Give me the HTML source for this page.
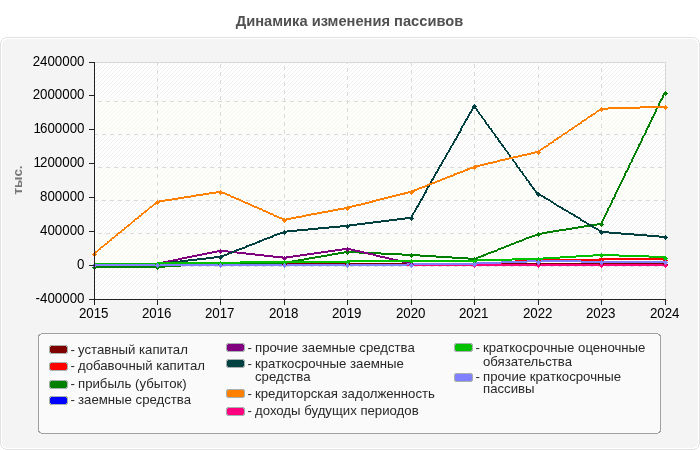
<!DOCTYPE html>
<html><head><meta charset="utf-8"><title>Динамика изменения пассивов</title>
<style>
html,body{margin:0;padding:0;background:#fff;}
body{width:700px;height:450px;overflow:hidden;position:relative;}
svg{position:absolute;left:0;top:0;display:block;}
text{font-family:"Liberation Sans",Arial,sans-serif;}
</style></head><body>
<svg width="700" height="450" viewBox="0 0 700 450">
<defs>
<pattern id="hw" x="0" y="0" width="4" height="4" patternUnits="userSpaceOnUse">
<rect x="0" y="0" width="4" height="4" fill="#ffffff"/>
<path d="M1 0h1v1h-1zM0 1h1v1h-1zM3 2h1v1h-1zM2 3h1v1h-1z" fill="#f0f0f0"/>
</pattern>
<pattern id="hy" x="0" y="0" width="4" height="4" patternUnits="userSpaceOnUse">
<rect x="0" y="0" width="4" height="4" fill="#fefefa"/>
<path d="M1 0h1v1h-1zM0 1h1v1h-1zM3 2h1v1h-1zM2 3h1v1h-1z" fill="#f6f6f3"/>
</pattern>
</defs>

<text x="349.5" y="25.5" text-anchor="middle" font-weight="bold" font-size="14.67" fill="#505050">Динамика изменения пассивов</text>
<g shape-rendering="crispEdges">
<rect x="0" y="37" width="700" height="413" fill="#ffffff"/>
<path fill="#e2e2e2" d="M5 37h690v1h-690zM5 449h690v1h-690zM0 42h1v403h-1zM699 42h1v403h-1zM3 38h1v1h-1zM696 38h1v1h-1zM3 448h1v1h-1zM696 448h1v1h-1zM4 38h1v1h-1zM695 38h1v1h-1zM4 448h1v1h-1zM695 448h1v1h-1zM2 39h1v1h-1zM697 39h1v1h-1zM2 447h1v1h-1zM697 447h1v1h-1zM1 40h1v1h-1zM698 40h1v1h-1zM1 446h1v1h-1zM698 446h1v1h-1zM1 41h1v1h-1zM698 41h1v1h-1zM1 445h1v1h-1zM698 445h1v1h-1z"/>
<path fill="#f4f4f4" d="M6 39h688v1h-688zM4 40h692v1h-692zM3 41h694v2h-694zM2 43h696v401h-696zM3 444h694v2h-694zM4 446h692v1h-692zM6 447h688v1h-688z"/>
</g>
<g shape-rendering="crispEdges">
<rect x="95" y="63" width="570" height="236" fill="url(#hw)"/>
<rect x="95" y="102" width="570" height="32" fill="url(#hy)"/>
<rect x="95" y="168" width="570" height="32" fill="url(#hy)"/>
<rect x="95" y="234" width="570" height="32" fill="url(#hy)"/>
<rect x="94" y="62" width="572" height="1" fill="#d7d7d7"/>
<rect x="665" y="62" width="1" height="238" fill="#d7d7d7"/>
<line x1="94" y1="101.5" x2="666" y2="101.5" stroke="#dadada" stroke-width="1" stroke-dasharray="4 4" stroke-dashoffset="4"/>
<line x1="94" y1="134.5" x2="666" y2="134.5" stroke="#dadada" stroke-width="1" stroke-dasharray="4 4" stroke-dashoffset="0"/>
<line x1="94" y1="167.5" x2="666" y2="167.5" stroke="#dadada" stroke-width="1" stroke-dasharray="4 4" stroke-dashoffset="4"/>
<line x1="94" y1="200.5" x2="666" y2="200.5" stroke="#dadada" stroke-width="1" stroke-dasharray="4 4" stroke-dashoffset="0"/>
<line x1="94" y1="233.5" x2="666" y2="233.5" stroke="#dadada" stroke-width="1" stroke-dasharray="4 4" stroke-dashoffset="4"/>
<line x1="94" y1="266.5" x2="666" y2="266.5" stroke="#dadada" stroke-width="1" stroke-dasharray="4 4" stroke-dashoffset="0"/>
<line x1="157.5" y1="62" x2="157.5" y2="300" stroke="#dadada" stroke-width="1" stroke-dasharray="4 4" stroke-dashoffset="0"/>
<line x1="220.5" y1="62" x2="220.5" y2="300" stroke="#dadada" stroke-width="1" stroke-dasharray="4 4" stroke-dashoffset="6"/>
<line x1="284.5" y1="62" x2="284.5" y2="300" stroke="#dadada" stroke-width="1" stroke-dasharray="4 4" stroke-dashoffset="4"/>
<line x1="347.5" y1="62" x2="347.5" y2="300" stroke="#dadada" stroke-width="1" stroke-dasharray="4 4" stroke-dashoffset="2"/>
<line x1="411.5" y1="62" x2="411.5" y2="300" stroke="#dadada" stroke-width="1" stroke-dasharray="4 4" stroke-dashoffset="0"/>
<line x1="474.5" y1="62" x2="474.5" y2="300" stroke="#dadada" stroke-width="1" stroke-dasharray="4 4" stroke-dashoffset="6"/>
<line x1="538.5" y1="62" x2="538.5" y2="300" stroke="#dadada" stroke-width="1" stroke-dasharray="4 4" stroke-dashoffset="4"/>
<line x1="601.5" y1="62" x2="601.5" y2="300" stroke="#dadada" stroke-width="1" stroke-dasharray="4 4" stroke-dashoffset="2"/>
</g>
<g shape-rendering="crispEdges">
<path fill="#800000" d="M94 263h571v1h-571zM94 264h571v1h-571z"/>
<path fill="#ff0000" d="M599 258h66v1h-66zM528 259h137v1h-137zM515 260h84v1h-84zM502 261h26v1h-26zM489 262h26v1h-26zM476 263h26v1h-26zM94 264h395v1h-395zM94 265h382v1h-382z"/>
<path fill="#008000" d="M663 93h2v1h-2zM663 94h2v1h-2zM662 95h2v1h-2zM662 96h2v1h-2zM662 97h2v1h-2zM661 98h2v1h-2zM660 99h3v1h-3zM660 100h2v1h-2zM659 101h2v1h-2zM659 102h2v1h-2zM658 103h2v1h-2zM658 104h2v1h-2zM658 105h2v1h-2zM657 106h2v1h-2zM657 107h2v1h-2zM656 108h2v1h-2zM655 109h2v1h-2zM655 110h2v1h-2zM655 111h2v1h-2zM654 112h2v1h-2zM654 113h2v1h-2zM653 114h2v1h-2zM653 115h2v1h-2zM652 116h2v1h-2zM651 117h3v1h-3zM651 118h2v1h-2zM651 119h2v1h-2zM650 120h2v1h-2zM650 121h2v1h-2zM649 122h2v1h-2zM649 123h2v1h-2zM648 124h2v1h-2zM648 125h2v1h-2zM647 126h3v1h-3zM647 127h2v1h-2zM646 128h2v1h-2zM646 129h2v1h-2zM645 130h2v1h-2zM645 131h2v1h-2zM645 132h2v1h-2zM644 133h2v1h-2zM644 134h2v1h-2zM643 135h2v1h-2zM642 136h2v1h-2zM642 137h2v1h-2zM641 138h2v1h-2zM641 139h2v1h-2zM641 140h2v1h-2zM640 141h2v1h-2zM640 142h2v1h-2zM639 143h2v1h-2zM638 144h3v1h-3zM638 145h2v1h-2zM638 146h2v1h-2zM637 147h2v1h-2zM637 148h2v1h-2zM636 149h2v1h-2zM636 150h2v1h-2zM635 151h2v1h-2zM635 152h2v1h-2zM634 153h2v1h-2zM634 154h2v1h-2zM633 155h2v1h-2zM633 156h2v1h-2zM632 157h2v1h-2zM632 158h2v1h-2zM631 159h2v1h-2zM631 160h2v1h-2zM631 161h2v1h-2zM630 162h2v1h-2zM629 163h2v1h-2zM629 164h2v1h-2zM628 165h2v1h-2zM628 166h2v1h-2zM628 167h2v1h-2zM627 168h2v1h-2zM627 169h2v1h-2zM626 170h2v1h-2zM625 171h3v1h-3zM625 172h2v1h-2zM624 173h2v1h-2zM624 174h2v1h-2zM624 175h2v1h-2zM623 176h2v1h-2zM623 177h2v1h-2zM622 178h2v1h-2zM622 179h2v1h-2zM621 180h2v1h-2zM621 181h2v1h-2zM620 182h2v1h-2zM620 183h2v1h-2zM619 184h2v1h-2zM619 185h2v1h-2zM618 186h2v1h-2zM618 187h2v1h-2zM617 188h2v1h-2zM617 189h2v1h-2zM616 190h2v1h-2zM616 191h2v1h-2zM615 192h2v1h-2zM615 193h2v1h-2zM614 194h2v1h-2zM614 195h2v1h-2zM614 196h2v1h-2zM613 197h2v1h-2zM612 198h3v1h-3zM612 199h2v1h-2zM611 200h2v1h-2zM611 201h2v1h-2zM611 202h2v1h-2zM610 203h2v1h-2zM610 204h2v1h-2zM609 205h2v1h-2zM609 206h2v1h-2zM608 207h2v1h-2zM607 208h2v1h-2zM607 209h2v1h-2zM607 210h2v1h-2zM606 211h2v1h-2zM606 212h2v1h-2zM605 213h2v1h-2zM605 214h2v1h-2zM604 215h2v1h-2zM604 216h2v1h-2zM603 217h2v1h-2zM603 218h2v1h-2zM602 219h2v1h-2zM602 220h2v1h-2zM601 221h2v1h-2zM601 222h2v1h-2zM597 223h5v1h-5zM591 224h11v1h-11zM584 225h13v1h-13zM578 226h13v1h-13zM572 227h12v1h-12zM566 228h12v1h-12zM559 229h13v1h-13zM553 230h13v1h-13zM547 231h12v1h-12zM542 232h11v1h-11zM537 233h10v1h-10zM535 234h7v1h-7zM532 235h5v1h-5zM529 236h6v1h-6zM526 237h6v1h-6zM524 238h5v1h-5zM522 239h4v1h-4zM519 240h5v1h-5zM516 241h6v1h-6zM514 242h5v1h-5zM511 243h5v1h-5zM509 244h5v1h-5zM506 245h5v1h-5zM504 246h5v1h-5zM501 247h5v1h-5zM498 248h6v1h-6zM497 249h4v1h-4zM494 250h4v1h-4zM344 251h15v1h-15zM491 251h6v1h-6zM338 252h43v1h-43zM488 252h6v1h-6zM332 253h12v1h-12zM359 253h43v1h-43zM486 253h5v1h-5zM327 254h11v1h-11zM381 254h39v1h-39zM483 254h5v1h-5zM321 255h11v1h-11zM402 255h34v1h-34zM481 255h5v1h-5zM315 256h12v1h-12zM420 256h32v1h-32zM478 256h6v1h-6zM309 257h12v1h-12zM436 257h32v1h-32zM476 257h5v1h-5zM304 258h11v1h-11zM452 258h26v1h-26zM298 259h11v1h-11zM468 259h8v1h-8zM292 260h12v1h-12zM286 261h12v1h-12zM213 262h79v1h-79zM197 263h89v1h-89zM181 264h32v1h-32zM165 265h32v1h-32zM94 266h87v1h-87zM94 267h71v1h-71z"/>
<path fill="#0000ff" d="M94 264h571v1h-571zM94 265h571v1h-571z"/>
<path fill="#800080" d="M342 248h9v1h-9zM335 249h20v1h-20zM217 250h11v1h-11zM328 250h14v1h-14zM351 250h9v1h-9zM212 251h25v1h-25zM321 251h14v1h-14zM355 251h9v1h-9zM207 252h10v1h-10zM228 252h18v1h-18zM314 252h14v1h-14zM360 252h8v1h-8zM202 253h10v1h-10zM237 253h18v1h-18zM307 253h14v1h-14zM364 253h9v1h-9zM197 254h10v1h-10zM246 254h18v1h-18zM300 254h14v1h-14zM368 254h8v1h-8zM192 255h10v1h-10zM255 255h18v1h-18zM293 255h14v1h-14zM373 255h7v1h-7zM187 256h10v1h-10zM264 256h19v1h-19zM286 256h14v1h-14zM376 256h9v1h-9zM182 257h10v1h-10zM273 257h20v1h-20zM380 257h9v1h-9zM178 258h9v1h-9zM283 258h3v1h-3zM385 258h8v1h-8zM173 259h9v1h-9zM389 259h9v1h-9zM168 260h10v1h-10zM393 260h9v1h-9zM163 261h10v1h-10zM398 261h8v1h-8zM158 262h10v1h-10zM402 262h9v1h-9zM94 263h69v1h-69zM406 263h60v1h-60zM94 264h64v1h-64zM411 264h254v1h-254zM466 265h199v1h-199z"/>
<path fill="#004040" d="M473 106h2v1h-2zM472 107h4v1h-4zM472 108h2v1h-2zM475 108h2v1h-2zM471 109h2v1h-2zM476 109h2v1h-2zM471 110h2v1h-2zM476 110h2v1h-2zM470 111h2v1h-2zM477 111h2v1h-2zM469 112h3v1h-3zM478 112h2v1h-2zM469 113h2v1h-2zM478 113h2v1h-2zM468 114h2v1h-2zM479 114h2v1h-2zM468 115h2v1h-2zM480 115h2v1h-2zM467 116h2v1h-2zM481 116h2v1h-2zM467 117h2v1h-2zM481 117h2v1h-2zM466 118h2v1h-2zM482 118h2v1h-2zM465 119h3v1h-3zM483 119h2v1h-2zM465 120h2v1h-2zM484 120h2v1h-2zM464 121h2v1h-2zM484 121h2v1h-2zM464 122h2v1h-2zM485 122h2v1h-2zM463 123h2v1h-2zM485 123h2v1h-2zM463 124h2v1h-2zM486 124h3v1h-3zM462 125h2v1h-2zM487 125h2v1h-2zM461 126h2v1h-2zM488 126h2v1h-2zM461 127h2v1h-2zM488 127h2v1h-2zM460 128h2v1h-2zM489 128h3v1h-3zM460 129h2v1h-2zM490 129h2v1h-2zM460 130h2v1h-2zM491 130h2v1h-2zM459 131h2v1h-2zM491 131h2v1h-2zM458 132h3v1h-3zM492 132h2v1h-2zM458 133h2v1h-2zM493 133h2v1h-2zM457 134h2v1h-2zM494 134h2v1h-2zM457 135h2v1h-2zM494 135h2v1h-2zM456 136h2v1h-2zM495 136h2v1h-2zM456 137h2v1h-2zM495 137h3v1h-3zM455 138h2v1h-2zM497 138h2v1h-2zM454 139h3v1h-3zM497 139h2v1h-2zM454 140h2v1h-2zM498 140h2v1h-2zM453 141h2v1h-2zM498 141h3v1h-3zM453 142h2v1h-2zM499 142h2v1h-2zM452 143h2v1h-2zM500 143h2v1h-2zM452 144h2v1h-2zM501 144h2v1h-2zM451 145h2v1h-2zM501 145h3v1h-3zM450 146h2v1h-2zM502 146h2v1h-2zM450 147h2v1h-2zM503 147h2v1h-2zM449 148h2v1h-2zM504 148h2v1h-2zM449 149h2v1h-2zM504 149h2v1h-2zM448 150h2v1h-2zM505 150h2v1h-2zM448 151h2v1h-2zM506 151h2v1h-2zM447 152h2v1h-2zM507 152h2v1h-2zM446 153h2v1h-2zM507 153h2v1h-2zM446 154h2v1h-2zM508 154h2v1h-2zM445 155h2v1h-2zM509 155h2v1h-2zM445 156h2v1h-2zM509 156h2v1h-2zM444 157h2v1h-2zM510 157h2v1h-2zM444 158h2v1h-2zM511 158h2v1h-2zM443 159h2v1h-2zM512 159h2v1h-2zM442 160h2v1h-2zM512 160h2v1h-2zM442 161h2v1h-2zM513 161h2v1h-2zM441 162h2v1h-2zM514 162h2v1h-2zM441 163h2v1h-2zM515 163h2v1h-2zM440 164h2v1h-2zM515 164h2v1h-2zM439 165h3v1h-3zM516 165h2v1h-2zM439 166h2v1h-2zM516 166h2v1h-2zM438 167h2v1h-2zM517 167h3v1h-3zM438 168h2v1h-2zM518 168h2v1h-2zM437 169h2v1h-2zM519 169h2v1h-2zM437 170h2v1h-2zM519 170h2v1h-2zM436 171h2v1h-2zM520 171h3v1h-3zM435 172h3v1h-3zM521 172h2v1h-2zM435 173h2v1h-2zM522 173h2v1h-2zM434 174h2v1h-2zM522 174h2v1h-2zM434 175h2v1h-2zM523 175h2v1h-2zM433 176h2v1h-2zM524 176h2v1h-2zM433 177h2v1h-2zM525 177h2v1h-2zM432 178h2v1h-2zM525 178h2v1h-2zM431 179h3v1h-3zM526 179h2v1h-2zM431 180h2v1h-2zM526 180h3v1h-3zM430 181h2v1h-2zM528 181h2v1h-2zM430 182h2v1h-2zM528 182h2v1h-2zM429 183h2v1h-2zM529 183h2v1h-2zM429 184h2v1h-2zM529 184h3v1h-3zM428 185h2v1h-2zM530 185h2v1h-2zM427 186h3v1h-3zM531 186h2v1h-2zM427 187h2v1h-2zM532 187h2v1h-2zM426 188h2v1h-2zM532 188h3v1h-3zM426 189h2v1h-2zM533 189h2v1h-2zM425 190h2v1h-2zM534 190h2v1h-2zM425 191h2v1h-2zM535 191h2v1h-2zM424 192h3v1h-3zM535 192h3v1h-3zM424 193h2v1h-2zM536 193h3v1h-3zM423 194h2v1h-2zM538 194h3v1h-3zM423 195h2v1h-2zM539 195h4v1h-4zM422 196h2v1h-2zM541 196h4v1h-4zM422 197h2v1h-2zM543 197h3v1h-3zM421 198h2v1h-2zM544 198h4v1h-4zM420 199h3v1h-3zM546 199h4v1h-4zM420 200h2v1h-2zM548 200h3v1h-3zM419 201h2v1h-2zM550 201h3v1h-3zM419 202h2v1h-2zM551 202h3v1h-3zM418 203h2v1h-2zM553 203h3v1h-3zM418 204h2v1h-2zM554 204h3v1h-3zM417 205h2v1h-2zM556 205h3v1h-3zM416 206h3v1h-3zM557 206h4v1h-4zM416 207h2v1h-2zM559 207h4v1h-4zM415 208h2v1h-2zM561 208h3v1h-3zM415 209h2v1h-2zM562 209h4v1h-4zM414 210h2v1h-2zM564 210h4v1h-4zM414 211h2v1h-2zM566 211h3v1h-3zM413 212h2v1h-2zM568 212h3v1h-3zM412 213h2v1h-2zM569 213h4v1h-4zM412 214h2v1h-2zM571 214h4v1h-4zM411 215h2v1h-2zM573 215h3v1h-3zM411 216h2v1h-2zM574 216h4v1h-4zM405 217h7v1h-7zM576 217h4v1h-4zM397 218h15v1h-15zM578 218h3v1h-3zM389 219h16v1h-16zM580 219h2v1h-2zM381 220h16v1h-16zM580 220h4v1h-4zM373 221h16v1h-16zM582 221h4v1h-4zM365 222h16v1h-16zM584 222h3v1h-3zM357 223h16v1h-16zM586 223h3v1h-3zM349 224h16v1h-16zM587 224h4v1h-4zM340 225h17v1h-17zM589 225h4v1h-4zM329 226h20v1h-20zM591 226h3v1h-3zM318 227h22v1h-22zM592 227h4v1h-4zM308 228h21v1h-21zM594 228h4v1h-4zM297 229h21v1h-21zM596 229h3v1h-3zM287 230h21v1h-21zM598 230h3v1h-3zM283 231h14v1h-14zM599 231h10v1h-10zM280 232h7v1h-7zM601 232h20v1h-20zM277 233h6v1h-6zM609 233h25v1h-25zM274 234h6v1h-6zM621 234h26v1h-26zM272 235h5v1h-5zM634 235h25v1h-25zM270 236h4v1h-4zM647 236h18v1h-18zM267 237h6v1h-6zM659 237h6v1h-6zM264 238h6v1h-6zM262 239h5v1h-5zM259 240h5v1h-5zM257 241h5v1h-5zM255 242h5v1h-5zM252 243h5v1h-5zM249 244h6v1h-6zM246 245h6v1h-6zM245 246h4v1h-4zM242 247h5v1h-5zM239 248h6v1h-6zM236 249h6v1h-6zM234 250h5v1h-5zM232 251h4v1h-4zM229 252h5v1h-5zM227 253h5v1h-5zM224 254h5v1h-5zM221 255h6v1h-6zM214 256h10v1h-10zM206 257h15v1h-15zM197 258h17v1h-17zM188 259h18v1h-18zM180 260h17v1h-17zM171 261h17v1h-17zM162 262h18v1h-18zM94 263h77v1h-77zM94 264h68v1h-68z"/>
<path fill="#ff8000" d="M640 106h25v1h-25zM608 107h57v1h-57zM601 108h39v1h-39zM599 109h9v1h-9zM597 110h4v1h-4zM596 111h3v1h-3zM595 112h2v1h-2zM593 113h3v1h-3zM591 114h4v1h-4zM590 115h3v1h-3zM588 116h4v1h-4zM587 117h3v1h-3zM586 118h2v1h-2zM584 119h3v1h-3zM582 120h4v1h-4zM581 121h3v1h-3zM580 122h2v1h-2zM578 123h4v1h-4zM577 124h3v1h-3zM575 125h3v1h-3zM574 126h3v1h-3zM572 127h3v1h-3zM571 128h3v1h-3zM569 129h4v1h-4zM568 130h3v1h-3zM567 131h2v1h-2zM565 132h3v1h-3zM563 133h4v1h-4zM562 134h3v1h-3zM561 135h2v1h-2zM559 136h3v1h-3zM557 137h4v1h-4zM556 138h3v1h-3zM554 139h4v1h-4zM553 140h3v1h-3zM552 141h2v1h-2zM550 142h4v1h-4zM548 143h4v1h-4zM548 144h2v1h-2zM546 145h3v1h-3zM544 146h4v1h-4zM543 147h3v1h-3zM541 148h3v1h-3zM540 149h3v1h-3zM538 150h3v1h-3zM535 151h5v1h-5zM531 152h8v1h-8zM527 153h8v1h-8zM522 154h9v1h-9zM518 155h9v1h-9zM513 156h9v1h-9zM509 157h9v1h-9zM505 158h8v1h-8zM500 159h9v1h-9zM497 160h8v1h-8zM493 161h7v1h-7zM488 162h9v1h-9zM484 163h9v1h-9zM480 164h8v1h-8zM475 165h9v1h-9zM473 166h7v1h-7zM470 167h5v1h-5zM467 168h6v1h-6zM465 169h5v1h-5zM463 170h5v1h-5zM460 171h5v1h-5zM457 172h6v1h-6zM454 173h6v1h-6zM453 174h4v1h-4zM450 175h5v1h-5zM447 176h6v1h-6zM445 177h5v1h-5zM442 178h5v1h-5zM440 179h5v1h-5zM437 180h5v1h-5zM435 181h5v1h-5zM432 182h5v1h-5zM429 183h6v1h-6zM427 184h5v1h-5zM425 185h4v1h-4zM422 186h5v1h-5zM419 187h6v1h-6zM417 188h5v1h-5zM414 189h5v1h-5zM412 190h5v1h-5zM216 191h6v1h-6zM408 191h7v1h-7zM209 192h16v1h-16zM404 192h8v1h-8zM203 193h13v1h-13zM222 193h5v1h-5zM400 193h8v1h-8zM196 194h13v1h-13zM225 194h5v1h-5zM396 194h9v1h-9zM191 195h12v1h-12zM227 195h4v1h-4zM392 195h8v1h-8zM184 196h12v1h-12zM230 196h4v1h-4zM388 196h8v1h-8zM178 197h13v1h-13zM231 197h5v1h-5zM384 197h8v1h-8zM172 198h12v1h-12zM234 198h5v1h-5zM380 198h8v1h-8zM165 199h13v1h-13zM236 199h5v1h-5zM376 199h8v1h-8zM159 200h13v1h-13zM239 200h4v1h-4zM372 200h8v1h-8zM156 201h9v1h-9zM241 201h4v1h-4zM369 201h7v1h-7zM155 202h4v1h-4zM243 202h5v1h-5zM365 202h8v1h-8zM154 203h2v1h-2zM245 203h5v1h-5zM361 203h8v1h-8zM153 204h3v1h-3zM248 204h4v1h-4zM356 204h9v1h-9zM152 205h2v1h-2zM250 205h4v1h-4zM352 205h9v1h-9zM150 206h3v1h-3zM252 206h5v1h-5zM348 206h8v1h-8zM149 207h3v1h-3zM254 207h5v1h-5zM344 207h8v1h-8zM148 208h2v1h-2zM257 208h5v1h-5zM338 208h10v1h-10zM147 209h2v1h-2zM259 209h4v1h-4zM333 209h11v1h-11zM145 210h3v1h-3zM262 210h4v1h-4zM328 210h10v1h-10zM144 211h3v1h-3zM263 211h5v1h-5zM322 211h11v1h-11zM143 212h3v1h-3zM266 212h4v1h-4zM317 212h11v1h-11zM141 213h3v1h-3zM268 213h5v1h-5zM311 213h11v1h-11zM141 214h2v1h-2zM270 214h4v1h-4zM306 214h11v1h-11zM139 215h3v1h-3zM273 215h4v1h-4zM302 215h9v1h-9zM138 216h3v1h-3zM274 216h5v1h-5zM296 216h10v1h-10zM137 217h2v1h-2zM277 217h5v1h-5zM291 217h11v1h-11zM135 218h4v1h-4zM279 218h5v1h-5zM286 218h10v1h-10zM134 219h3v1h-3zM282 219h9v1h-9zM133 220h2v1h-2zM284 220h2v1h-2zM132 221h3v1h-3zM131 222h2v1h-2zM130 223h2v1h-2zM128 224h3v1h-3zM127 225h3v1h-3zM126 226h3v1h-3zM124 227h3v1h-3zM124 228h2v1h-2zM122 229h3v1h-3zM121 230h3v1h-3zM120 231h2v1h-2zM118 232h4v1h-4zM117 233h3v1h-3zM116 234h2v1h-2zM115 235h3v1h-3zM114 236h2v1h-2zM112 237h3v1h-3zM111 238h3v1h-3zM110 239h2v1h-2zM109 240h3v1h-3zM107 241h3v1h-3zM107 242h2v1h-2zM105 243h3v1h-3zM104 244h3v1h-3zM103 245h2v1h-2zM101 246h3v1h-3zM100 247h3v1h-3zM99 248h2v1h-2zM98 249h3v1h-3zM97 250h2v1h-2zM95 251h3v1h-3zM94 252h3v1h-3zM94 253h1v1h-1zM94 254h1v1h-1z"/>
<path fill="#ff0080" d="M94 264h571v1h-571zM94 265h571v1h-571z"/>
<path fill="#00c000" d="M593 254h26v1h-26zM576 255h73v1h-73zM560 256h33v1h-33zM619 256h46v1h-46zM543 257h33v1h-33zM649 257h16v1h-16zM512 258h48v1h-48zM475 259h68v1h-68zM348 260h164v1h-164zM240 261h235v1h-235zM158 262h190v1h-190zM94 263h146v1h-146zM94 264h64v1h-64z"/>
<path fill="#8080ff" d="M527 260h54v1h-54zM501 261h164v1h-164zM475 262h52v1h-52zM581 262h84v1h-84zM407 263h94v1h-94zM94 264h381v1h-381zM94 265h313v1h-313z"/>
<path fill="#800000" d="M284 262h1v1h-1zM347 262h1v1h-1zM411 262h1v1h-1zM474 262h1v1h-1zM538 262h1v1h-1zM601 262h1v1h-1zM665 262h1v1h-1zM94 263h1v1h-1zM157 263h1v1h-1zM220 263h1v1h-1zM283 263h3v1h-3zM346 263h3v1h-3zM410 263h3v1h-3zM473 263h3v1h-3zM537 263h3v1h-3zM600 263h3v1h-3zM664 263h3v1h-3zM93 264h3v1h-3zM156 264h3v1h-3zM219 264h3v1h-3zM282 264h5v1h-5zM345 264h5v1h-5zM409 264h5v1h-5zM472 264h5v1h-5zM536 264h5v1h-5zM599 264h5v1h-5zM663 264h5v1h-5zM92 265h5v1h-5zM155 265h5v1h-5zM218 265h5v1h-5zM283 265h3v1h-3zM346 265h3v1h-3zM410 265h3v1h-3zM473 265h3v1h-3zM537 265h3v1h-3zM600 265h3v1h-3zM664 265h3v1h-3zM93 266h3v1h-3zM156 266h3v1h-3zM219 266h3v1h-3zM284 266h1v1h-1zM347 266h1v1h-1zM411 266h1v1h-1zM474 266h1v1h-1zM538 266h1v1h-1zM601 266h1v1h-1zM665 266h1v1h-1zM94 267h1v1h-1zM157 267h1v1h-1zM220 267h1v1h-1z"/>
<path fill="#ff0000" d="M538 258h1v1h-1zM601 258h1v1h-1zM665 258h1v1h-1zM537 259h3v1h-3zM600 259h3v1h-3zM664 259h3v1h-3zM536 260h5v1h-5zM599 260h5v1h-5zM663 260h5v1h-5zM537 261h3v1h-3zM600 261h3v1h-3zM664 261h3v1h-3zM538 262h1v1h-1zM601 262h1v1h-1zM665 262h1v1h-1zM94 263h1v1h-1zM157 263h1v1h-1zM220 263h1v1h-1zM284 263h1v1h-1zM347 263h1v1h-1zM411 263h1v1h-1zM474 263h1v1h-1zM93 264h3v1h-3zM156 264h3v1h-3zM219 264h3v1h-3zM283 264h3v1h-3zM346 264h3v1h-3zM410 264h3v1h-3zM473 264h3v1h-3zM92 265h5v1h-5zM155 265h5v1h-5zM218 265h5v1h-5zM282 265h5v1h-5zM345 265h5v1h-5zM409 265h5v1h-5zM472 265h5v1h-5zM93 266h3v1h-3zM156 266h3v1h-3zM219 266h3v1h-3zM283 266h3v1h-3zM346 266h3v1h-3zM410 266h3v1h-3zM473 266h3v1h-3zM94 267h1v1h-1zM157 267h1v1h-1zM220 267h1v1h-1zM284 267h1v1h-1zM347 267h1v1h-1zM411 267h1v1h-1zM474 267h1v1h-1z"/>
<path fill="#008000" d="M665 91h1v1h-1zM664 92h3v1h-3zM663 93h5v1h-5zM664 94h3v1h-3zM665 95h1v1h-1zM601 222h1v1h-1zM600 223h3v1h-3zM599 224h5v1h-5zM600 225h3v1h-3zM601 226h1v1h-1zM538 232h1v1h-1zM537 233h3v1h-3zM536 234h5v1h-5zM537 235h3v1h-3zM538 236h1v1h-1zM347 250h1v1h-1zM346 251h3v1h-3zM345 252h5v1h-5zM346 253h3v1h-3zM411 253h1v1h-1zM347 254h1v1h-1zM410 254h3v1h-3zM409 255h5v1h-5zM410 256h3v1h-3zM411 257h1v1h-1zM474 257h1v1h-1zM473 258h3v1h-3zM472 259h5v1h-5zM473 260h3v1h-3zM284 261h1v1h-1zM474 261h1v1h-1zM220 262h1v1h-1zM283 262h3v1h-3zM219 263h3v1h-3zM282 263h5v1h-5zM218 264h5v1h-5zM283 264h3v1h-3zM94 265h1v1h-1zM157 265h1v1h-1zM219 265h3v1h-3zM284 265h1v1h-1zM93 266h3v1h-3zM156 266h3v1h-3zM220 266h1v1h-1zM92 267h5v1h-5zM155 267h5v1h-5zM93 268h3v1h-3zM156 268h3v1h-3zM94 269h1v1h-1zM157 269h1v1h-1z"/>
<path fill="#0000ff" d="M94 263h1v1h-1zM157 263h1v1h-1zM220 263h1v1h-1zM284 263h1v1h-1zM347 263h1v1h-1zM411 263h1v1h-1zM474 263h1v1h-1zM538 263h1v1h-1zM601 263h1v1h-1zM665 263h1v1h-1zM93 264h3v1h-3zM156 264h3v1h-3zM219 264h3v1h-3zM283 264h3v1h-3zM346 264h3v1h-3zM410 264h3v1h-3zM473 264h3v1h-3zM537 264h3v1h-3zM600 264h3v1h-3zM664 264h3v1h-3zM92 265h5v1h-5zM155 265h5v1h-5zM218 265h5v1h-5zM282 265h5v1h-5zM345 265h5v1h-5zM409 265h5v1h-5zM472 265h5v1h-5zM536 265h5v1h-5zM599 265h5v1h-5zM663 265h5v1h-5zM93 266h3v1h-3zM156 266h3v1h-3zM219 266h3v1h-3zM283 266h3v1h-3zM346 266h3v1h-3zM410 266h3v1h-3zM473 266h3v1h-3zM537 266h3v1h-3zM600 266h3v1h-3zM664 266h3v1h-3zM94 267h1v1h-1zM157 267h1v1h-1zM220 267h1v1h-1zM284 267h1v1h-1zM347 267h1v1h-1zM411 267h1v1h-1zM474 267h1v1h-1zM538 267h1v1h-1zM601 267h1v1h-1zM665 267h1v1h-1z"/>
<path fill="#800080" d="M347 247h1v1h-1zM346 248h3v1h-3zM220 249h1v1h-1zM345 249h5v1h-5zM219 250h3v1h-3zM346 250h3v1h-3zM218 251h5v1h-5zM347 251h1v1h-1zM219 252h3v1h-3zM220 253h1v1h-1zM284 256h1v1h-1zM283 257h3v1h-3zM282 258h5v1h-5zM283 259h3v1h-3zM284 260h1v1h-1zM157 262h1v1h-1zM411 262h1v1h-1zM94 263h1v1h-1zM156 263h3v1h-3zM410 263h3v1h-3zM474 263h1v1h-1zM538 263h1v1h-1zM601 263h1v1h-1zM665 263h1v1h-1zM93 264h3v1h-3zM155 264h5v1h-5zM409 264h5v1h-5zM473 264h3v1h-3zM537 264h3v1h-3zM600 264h3v1h-3zM664 264h3v1h-3zM92 265h5v1h-5zM156 265h3v1h-3zM410 265h3v1h-3zM472 265h5v1h-5zM536 265h5v1h-5zM599 265h5v1h-5zM663 265h5v1h-5zM93 266h3v1h-3zM157 266h1v1h-1zM411 266h1v1h-1zM473 266h3v1h-3zM537 266h3v1h-3zM600 266h3v1h-3zM664 266h3v1h-3zM94 267h1v1h-1zM474 267h1v1h-1zM538 267h1v1h-1zM601 267h1v1h-1zM665 267h1v1h-1z"/>
<path fill="#004040" d="M474 104h1v1h-1zM473 105h3v1h-3zM472 106h5v1h-5zM473 107h3v1h-3zM474 108h1v1h-1zM538 192h1v1h-1zM537 193h3v1h-3zM536 194h5v1h-5zM537 195h3v1h-3zM538 196h1v1h-1zM411 216h1v1h-1zM410 217h3v1h-3zM409 218h5v1h-5zM410 219h3v1h-3zM411 220h1v1h-1zM347 224h1v1h-1zM346 225h3v1h-3zM345 226h5v1h-5zM346 227h3v1h-3zM347 228h1v1h-1zM284 230h1v1h-1zM601 230h1v1h-1zM283 231h3v1h-3zM600 231h3v1h-3zM282 232h5v1h-5zM599 232h5v1h-5zM283 233h3v1h-3zM600 233h3v1h-3zM284 234h1v1h-1zM601 234h1v1h-1zM665 235h1v1h-1zM664 236h3v1h-3zM663 237h5v1h-5zM664 238h3v1h-3zM665 239h1v1h-1zM220 255h1v1h-1zM219 256h3v1h-3zM218 257h5v1h-5zM219 258h3v1h-3zM220 259h1v1h-1zM94 263h1v1h-1zM157 263h1v1h-1zM93 264h3v1h-3zM156 264h3v1h-3zM92 265h5v1h-5zM155 265h5v1h-5zM93 266h3v1h-3zM156 266h3v1h-3zM94 267h1v1h-1zM157 267h1v1h-1z"/>
<path fill="#ff8000" d="M665 105h1v1h-1zM664 106h3v1h-3zM601 107h1v1h-1zM663 107h5v1h-5zM600 108h3v1h-3zM664 108h3v1h-3zM599 109h5v1h-5zM665 109h1v1h-1zM600 110h3v1h-3zM601 111h1v1h-1zM538 150h1v1h-1zM537 151h3v1h-3zM536 152h5v1h-5zM537 153h3v1h-3zM538 154h1v1h-1zM474 165h1v1h-1zM473 166h3v1h-3zM472 167h5v1h-5zM473 168h3v1h-3zM474 169h1v1h-1zM220 190h1v1h-1zM411 190h1v1h-1zM219 191h3v1h-3zM410 191h3v1h-3zM218 192h5v1h-5zM409 192h5v1h-5zM219 193h3v1h-3zM410 193h3v1h-3zM220 194h1v1h-1zM411 194h1v1h-1zM157 200h1v1h-1zM156 201h3v1h-3zM155 202h5v1h-5zM156 203h3v1h-3zM157 204h1v1h-1zM347 206h1v1h-1zM346 207h3v1h-3zM345 208h5v1h-5zM346 209h3v1h-3zM347 210h1v1h-1zM284 218h1v1h-1zM283 219h3v1h-3zM282 220h5v1h-5zM283 221h3v1h-3zM284 222h1v1h-1zM94 252h1v1h-1zM93 253h3v1h-3zM92 254h5v1h-5zM93 255h3v1h-3zM94 256h1v1h-1z"/>
<path fill="#ff0080" d="M94 263h1v1h-1zM157 263h1v1h-1zM220 263h1v1h-1zM284 263h1v1h-1zM347 263h1v1h-1zM411 263h1v1h-1zM474 263h1v1h-1zM538 263h1v1h-1zM601 263h1v1h-1zM665 263h1v1h-1zM93 264h3v1h-3zM156 264h3v1h-3zM219 264h3v1h-3zM283 264h3v1h-3zM346 264h3v1h-3zM410 264h3v1h-3zM473 264h3v1h-3zM537 264h3v1h-3zM600 264h3v1h-3zM664 264h3v1h-3zM92 265h5v1h-5zM155 265h5v1h-5zM218 265h5v1h-5zM282 265h5v1h-5zM345 265h5v1h-5zM409 265h5v1h-5zM472 265h5v1h-5zM536 265h5v1h-5zM599 265h5v1h-5zM663 265h5v1h-5zM93 266h3v1h-3zM156 266h3v1h-3zM219 266h3v1h-3zM283 266h3v1h-3zM346 266h3v1h-3zM410 266h3v1h-3zM473 266h3v1h-3zM537 266h3v1h-3zM600 266h3v1h-3zM664 266h3v1h-3zM94 267h1v1h-1zM157 267h1v1h-1zM220 267h1v1h-1zM284 267h1v1h-1zM347 267h1v1h-1zM411 267h1v1h-1zM474 267h1v1h-1zM538 267h1v1h-1zM601 267h1v1h-1zM665 267h1v1h-1z"/>
<path fill="#00c000" d="M601 253h1v1h-1zM600 254h3v1h-3zM599 255h5v1h-5zM600 256h3v1h-3zM665 256h1v1h-1zM538 257h1v1h-1zM601 257h1v1h-1zM664 257h3v1h-3zM537 258h3v1h-3zM663 258h5v1h-5zM411 259h1v1h-1zM474 259h1v1h-1zM536 259h5v1h-5zM664 259h3v1h-3zM284 260h1v1h-1zM347 260h1v1h-1zM410 260h3v1h-3zM473 260h3v1h-3zM537 260h3v1h-3zM665 260h1v1h-1zM220 261h1v1h-1zM283 261h3v1h-3zM346 261h3v1h-3zM409 261h5v1h-5zM472 261h5v1h-5zM538 261h1v1h-1zM157 262h1v1h-1zM219 262h3v1h-3zM282 262h5v1h-5zM345 262h5v1h-5zM410 262h3v1h-3zM473 262h3v1h-3zM94 263h1v1h-1zM156 263h3v1h-3zM218 263h5v1h-5zM283 263h3v1h-3zM346 263h3v1h-3zM411 263h1v1h-1zM474 263h1v1h-1zM93 264h3v1h-3zM155 264h5v1h-5zM219 264h3v1h-3zM284 264h1v1h-1zM347 264h1v1h-1zM92 265h5v1h-5zM156 265h3v1h-3zM220 265h1v1h-1zM93 266h3v1h-3zM157 266h1v1h-1zM94 267h1v1h-1z"/>
<path fill="#8080ff" d="M538 260h1v1h-1zM601 260h1v1h-1zM665 260h1v1h-1zM537 261h3v1h-3zM600 261h3v1h-3zM664 261h3v1h-3zM474 262h1v1h-1zM536 262h5v1h-5zM599 262h5v1h-5zM663 262h5v1h-5zM94 263h1v1h-1zM157 263h1v1h-1zM220 263h1v1h-1zM284 263h1v1h-1zM347 263h1v1h-1zM411 263h1v1h-1zM473 263h3v1h-3zM537 263h3v1h-3zM600 263h3v1h-3zM664 263h3v1h-3zM93 264h3v1h-3zM156 264h3v1h-3zM219 264h3v1h-3zM283 264h3v1h-3zM346 264h3v1h-3zM410 264h3v1h-3zM472 264h5v1h-5zM538 264h1v1h-1zM601 264h1v1h-1zM665 264h1v1h-1zM92 265h5v1h-5zM155 265h5v1h-5zM218 265h5v1h-5zM282 265h5v1h-5zM345 265h5v1h-5zM409 265h5v1h-5zM473 265h3v1h-3zM93 266h3v1h-3zM156 266h3v1h-3zM219 266h3v1h-3zM283 266h3v1h-3zM346 266h3v1h-3zM410 266h3v1h-3zM474 266h1v1h-1zM94 267h1v1h-1zM157 267h1v1h-1zM220 267h1v1h-1zM284 267h1v1h-1zM347 267h1v1h-1zM411 267h1v1h-1z"/>
</g>
<g shape-rendering="crispEdges" fill="#222222">
<rect x="94" y="62" width="1" height="238"/>
<rect x="94" y="299" width="572" height="1"/>
<rect x="89" y="62" width="5" height="1"/>
<rect x="89" y="95" width="5" height="1"/>
<rect x="89" y="129" width="5" height="1"/>
<rect x="89" y="163" width="5" height="1"/>
<rect x="89" y="197" width="5" height="1"/>
<rect x="89" y="231" width="5" height="1"/>
<rect x="89" y="265" width="5" height="1"/>
<rect x="89" y="299" width="5" height="1"/>
<rect x="94" y="299" width="1" height="6"/>
<rect x="157" y="299" width="1" height="6"/>
<rect x="220" y="299" width="1" height="6"/>
<rect x="284" y="299" width="1" height="6"/>
<rect x="347" y="299" width="1" height="6"/>
<rect x="411" y="299" width="1" height="6"/>
<rect x="474" y="299" width="1" height="6"/>
<rect x="538" y="299" width="1" height="6"/>
<rect x="601" y="299" width="1" height="6"/>
<rect x="665" y="299" width="1" height="6"/>
</g>
<text transform="translate(84.5 65.9) scale(1 1.07)" text-anchor="end" font-size="13.33" fill="#000000">2400000</text>
<text transform="translate(84.5 98.9) scale(1 1.07)" text-anchor="end" font-size="13.33" fill="#000000">2000000</text>
<text transform="translate(84.5 132.9) scale(1 1.07)" text-anchor="end" font-size="13.33" fill="#000000"><tspan>1</tspan><tspan dx="-1.0">600000</tspan></text>
<text transform="translate(84.5 166.9) scale(1 1.07)" text-anchor="end" font-size="13.33" fill="#000000"><tspan>1</tspan><tspan dx="-1.0">200000</tspan></text>
<text transform="translate(84.5 200.9) scale(1 1.07)" text-anchor="end" font-size="13.33" fill="#000000">800000</text>
<text transform="translate(84.5 234.9) scale(1 1.07)" text-anchor="end" font-size="13.33" fill="#000000">400000</text>
<text transform="translate(84.5 268.9) scale(1 1.07)" text-anchor="end" font-size="13.33" fill="#000000">0</text>
<text transform="translate(84.5 302.9) scale(1 1.07)" text-anchor="end" font-size="13.33" fill="#000000">-400000</text>
<text transform="translate(93.7 318) scale(1 1.07)" text-anchor="middle" font-size="13.33" fill="#000000">2015</text>
<text transform="translate(156.7 318) scale(1 1.07)" text-anchor="middle" font-size="13.33" fill="#000000">2016</text>
<text transform="translate(219.7 318) scale(1 1.07)" text-anchor="middle" font-size="13.33" fill="#000000">2017</text>
<text transform="translate(283.7 318) scale(1 1.07)" text-anchor="middle" font-size="13.33" fill="#000000">2018</text>
<text transform="translate(346.7 318) scale(1 1.07)" text-anchor="middle" font-size="13.33" fill="#000000">2019</text>
<text transform="translate(410.7 318) scale(1 1.07)" text-anchor="middle" font-size="13.33" fill="#000000">2020</text>
<text transform="translate(473.7 318) scale(1 1.07)" text-anchor="middle" font-size="13.33" fill="#000000">2021</text>
<text transform="translate(537.7 318) scale(1 1.07)" text-anchor="middle" font-size="13.33" fill="#000000">2022</text>
<text transform="translate(600.7 318) scale(1 1.07)" text-anchor="middle" font-size="13.33" fill="#000000">2023</text>
<text transform="translate(664.7 318) scale(1 1.07)" text-anchor="middle" font-size="13.33" fill="#000000">2024</text>
<text transform="translate(22.3 180) rotate(-90)" text-anchor="middle" font-weight="bold" font-size="13.33" fill="#777777">тыс.</text>
<g shape-rendering="crispEdges">
<path fill="#fafafa" d="M40 334h619v1h-619zM39 335h621v98h-621zM40 433h619v0h-619z"/>
<path fill="#a0a0a0" d="M41 333h617v1h-617zM41 433h617v1h-617zM38 336h1v95h-1zM660 336h1v95h-1zM39 334h1v1h-1zM659 334h1v1h-1zM39 432h1v1h-1zM659 432h1v1h-1zM40 334h1v1h-1zM658 334h1v1h-1zM40 432h1v1h-1zM658 432h1v1h-1zM38 335h1v1h-1zM660 335h1v1h-1zM38 431h1v1h-1zM660 431h1v1h-1zM39 335h1v1h-1zM659 335h1v1h-1zM39 431h1v1h-1zM659 431h1v1h-1z"/>
</g>
<g shape-rendering="crispEdges"><path fill="#a8b0b0" d="M50 345h17v1h-17zM50 353h17v1h-17zM49 346h1v7h-1zM67 346h1v7h-1z"/><rect x="50" y="346" width="17" height="7" fill="#800000"/><path fill="#a8b0b0" d="M50 346h1v1h-1zM66 346h1v1h-1zM50 352h1v1h-1zM66 352h1v1h-1z"/></g>
<text x="70.5" y="354" font-size="13.2" fill="#282828">-</text>
<text x="78" y="354" font-size="13.2" fill="#282828">уставный капитал</text>
<g shape-rendering="crispEdges"><path fill="#a8b0b0" d="M50 362h17v1h-17zM50 370h17v1h-17zM49 363h1v7h-1zM67 363h1v7h-1z"/><rect x="50" y="363" width="17" height="7" fill="#ff0000"/><path fill="#a8b0b0" d="M50 363h1v1h-1zM66 363h1v1h-1zM50 369h1v1h-1zM66 369h1v1h-1z"/></g>
<text x="70.5" y="370" font-size="13.2" fill="#282828">-</text>
<text x="78" y="370" font-size="13.2" fill="#282828">добавочный капитал</text>
<g shape-rendering="crispEdges"><path fill="#a8b0b0" d="M50 380h17v1h-17zM50 388h17v1h-17zM49 381h1v7h-1zM67 381h1v7h-1z"/><rect x="50" y="381" width="17" height="7" fill="#008000"/><path fill="#a8b0b0" d="M50 381h1v1h-1zM66 381h1v1h-1zM50 387h1v1h-1zM66 387h1v1h-1z"/></g>
<text x="70.5" y="387.5" font-size="13.2" fill="#282828">-</text>
<text x="78" y="387.5" font-size="13.2" fill="#282828">прибыль (убыток)</text>
<g shape-rendering="crispEdges"><path fill="#a8b0b0" d="M50 396h17v1h-17zM50 404h17v1h-17zM49 397h1v7h-1zM67 397h1v7h-1z"/><rect x="50" y="397" width="17" height="7" fill="#0000ff"/><path fill="#a8b0b0" d="M50 397h1v1h-1zM66 397h1v1h-1zM50 403h1v1h-1zM66 403h1v1h-1z"/></g>
<text x="70.5" y="404" font-size="13.2" fill="#282828">-</text>
<text x="78" y="404" font-size="13.2" fill="#282828">заемные средства</text>
<g shape-rendering="crispEdges"><path fill="#a8b0b0" d="M227 343h17v1h-17zM227 351h17v1h-17zM226 344h1v7h-1zM244 344h1v7h-1z"/><rect x="227" y="344" width="17" height="7" fill="#800080"/><path fill="#a8b0b0" d="M227 344h1v1h-1zM243 344h1v1h-1zM227 350h1v1h-1zM243 350h1v1h-1z"/></g>
<text x="247.5" y="352" font-size="13.2" fill="#282828">-</text>
<text x="255" y="352" font-size="13.2" fill="#282828">прочие заемные средства</text>
<g shape-rendering="crispEdges"><path fill="#a8b0b0" d="M227 359h17v1h-17zM227 367h17v1h-17zM226 360h1v7h-1zM244 360h1v7h-1z"/><rect x="227" y="360" width="17" height="7" fill="#004040"/><path fill="#a8b0b0" d="M227 360h1v1h-1zM243 360h1v1h-1zM227 366h1v1h-1zM243 366h1v1h-1z"/></g>
<text x="247.5" y="368" font-size="13.2" fill="#282828">-</text>
<text x="255" y="368" font-size="13.2" fill="#282828">краткосрочные заемные</text>
<text x="255" y="381" font-size="13.2" fill="#282828">средства</text>
<g shape-rendering="crispEdges"><path fill="#a8b0b0" d="M227 389h17v1h-17zM227 397h17v1h-17zM226 390h1v7h-1zM244 390h1v7h-1z"/><rect x="227" y="390" width="17" height="7" fill="#ff8000"/><path fill="#a8b0b0" d="M227 390h1v1h-1zM243 390h1v1h-1zM227 396h1v1h-1zM243 396h1v1h-1z"/></g>
<text x="247.5" y="397.5" font-size="13.2" fill="#282828">-</text>
<text x="255" y="397.5" font-size="13.2" fill="#282828">кредиторская задолженность</text>
<g shape-rendering="crispEdges"><path fill="#a8b0b0" d="M227 407h17v1h-17zM227 415h17v1h-17zM226 408h1v7h-1zM244 408h1v7h-1z"/><rect x="227" y="408" width="17" height="7" fill="#ff0080"/><path fill="#a8b0b0" d="M227 408h1v1h-1zM243 408h1v1h-1zM227 414h1v1h-1zM243 414h1v1h-1z"/></g>
<text x="247.5" y="414.5" font-size="13.2" fill="#282828">-</text>
<text x="255" y="414.5" font-size="13.2" fill="#282828">доходы будущих периодов</text>
<g shape-rendering="crispEdges"><path fill="#a8b0b0" d="M455 343h17v1h-17zM455 351h17v1h-17zM454 344h1v7h-1zM472 344h1v7h-1z"/><rect x="455" y="344" width="17" height="7" fill="#00c000"/><path fill="#a8b0b0" d="M455 344h1v1h-1zM471 344h1v1h-1zM455 350h1v1h-1zM471 350h1v1h-1z"/></g>
<text x="475.5" y="352" font-size="13.2" fill="#282828">-</text>
<text x="483" y="352" font-size="13.2" fill="#282828">краткосрочные оценочные</text>
<text x="483" y="365.5" font-size="13.2" fill="#282828">обязательства</text>
<g shape-rendering="crispEdges"><path fill="#a8b0b0" d="M455 373h17v1h-17zM455 381h17v1h-17zM454 374h1v7h-1zM472 374h1v7h-1z"/><rect x="455" y="374" width="17" height="7" fill="#8080ff"/><path fill="#a8b0b0" d="M455 374h1v1h-1zM471 374h1v1h-1zM455 380h1v1h-1zM471 380h1v1h-1z"/></g>
<text x="475.5" y="380.5" font-size="13.2" fill="#282828">-</text>
<text x="483" y="380.5" font-size="13.2" fill="#282828">прочие краткосрочные</text>
<text x="483" y="393" font-size="13.2" fill="#282828">пассивы</text>
</svg>
</body></html>
